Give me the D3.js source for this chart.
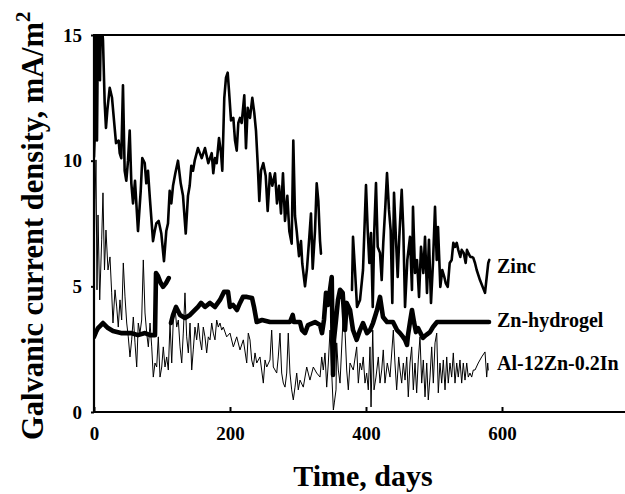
<!DOCTYPE html>
<html><head><meta charset="utf-8">
<script src="https://cdn.jsdelivr.net/npm/d3@7"></script>
<style>html,body{margin:0;padding:0;background:#fff;overflow:hidden}</style>
</head><body>
<script>
// ---- data (days, mA/m^2) ----
const xTicks = [0, 200, 400, 600];
const yTicks = [0, 5, 10, 15];
const seriesNames = ["Zinc", "Zn-hydrogel", "Al-12Zn-0.2In"];

const zincA = [[0,10.15],[1.5,11.3],[2.9,15.8],[4.4,10.8],[5.9,15.8],[8.8,13.2],[10.3,15.8],[13.2,14.8],[15.7,12.3],[17.6,11.3],[19.6,12.0],[23.1,12.9],[26.5,12.5],[29.4,11.6],[32.4,10.7],[36.3,10.8],[37.8,10.3],[40.1,10.1],[42.6,13.0],[45.1,9.6],[47.5,9.2],[50.0,10.0],[52.5,11.2],[54.9,9.1],[57.4,8.3],[60.3,9.2],[64.7,7.2],[68.7,8.8],[71.0,10.1],[74.6,9.9],[76.9,9.1],[79.4,9.6],[81.9,8.6],[86.8,6.8],[89.3,7.2],[91.6,7.5],[95.1,7.6],[99.0,7.1],[102.9,6.0],[106.3,7.2],[108.8,7.5],[111.3,8.8],[113.7,8.3],[116.2,9.0],[119.6,9.5],[123.5,10.0],[127.5,9.1],[130.9,8.6],[134.9,7.1],[138.2,8.6],[140.7,9.0],[143.1,9.8],[145.6,9.6],[148.1,10.0],[152.9,10.5],[158.4,10.1],[163.2,10.5],[168.1,9.9],[173.1,10.3],[175.4,9.5],[177.9,10.1],[180.4,9.9],[183.8,10.9],[186.8,10.3],[188.7,9.6],[191.6,12.5],[194.1,13.3],[196.6,13.5],[198.5,12.8],[201.5,11.6],[204.9,11.7],[207.4,10.8],[209.9,10.4],[212.2,11.5],[214.7,11.7],[217.2,11.5],[221.0,12.6],[223.5,10.5],[226.0,12.1],[229.4,11.7],[232.8,12.5],[235.7,11.9],[238.2,11.2],[240.7,9.9],[243.1,8.4],[245.6,9.6],[249.0,9.9],[252.5,9.4],[255.4,8.0],[258.8,9.5],[262.2,9.0],[266.2,9.5],[269.1,8.3],[272.1,9.0],[275.0,7.9],[277.9,9.5],[280.9,7.6],[284.3,8.6],[287.2,7.2],[290.7,6.7],[293.1,10.8],[295.6,7.8],[298.1,7.2],[301.5,6.2],[304.4,6.8],[306.3,5.9],[310.3,5.0],[313.2,5.7],[316.2,6.8],[319.1,7.9],[321.6,5.7],[325.0,7.2],[327.5,9.1],[329.9,8.4],[332.4,6.8],[333.8,6.3]];

const zincB = [[379.4,4.86],[380.9,6.97],[383.8,5.65],[386.8,4.18],[391.2,4.46],[395.6,5.65],[400.0,9.03],[402.5,7.24],[404.9,5.93],[407.4,7.12],[409.9,4.18],[412.2,7.24],[414.7,9.11],[417.2,6.57],[420.6,6.33],[423.1,5.25],[425.4,6.73],[428.4,8.16],[430.9,9.51],[433.8,8.04],[436.3,7.24],[438.7,4.34],[441.2,8.72],[444.1,6.85],[446.6,5.37],[449.0,6.97],[452.5,8.84],[454.9,7.24],[457.4,4.18],[460.8,6.05],[464.7,6.97],[467.6,4.86],[469.1,8.16],[472.1,5.53],[475.0,6.05],[478.0,4.58],[480.9,6.57],[484.3,5.53],[486.8,6.97],[489.7,4.74],[492.6,6.85],[495.6,4.34],[498.5,5.93],[501.5,8.16],[504.0,6.05],[505.9,7.36],[509.3,4.98],[512.2,5.65],[515.2,5.37],[517.2,5.13],[520.2,4.98],[523.1,5.93],[526.0,6.05],[528.4,6.73],[530.9,6.57],[533.4,6.73],[535.7,6.45],[538.7,6.17],[540.7,6.45],[543.7,6.33],[546.6,5.93],[548.5,6.45],[550.4,6.33],[553.4,6.17],[555.4,6.17],[557.8,6.13],[560.3,5.93],[562.8,5.65],[567.6,5.25],[575.0,4.74],[577.5,5.37],[579.8,5.93],[581.3,6.05]];

const hydroA = [[0,2.99],[2.9,3.18],[5.9,3.34],[10.3,3.46],[13.2,3.54],[17.6,3.42],[20.6,3.34],[27.9,3.22],[39.7,3.14],[54.4,3.14],[64.7,3.06],[75.0,3.14],[82.4,3.06],[89.7,3.06],[91.2,5.53],[94.1,5.41],[98.1,5.13],[101.5,4.98],[105.9,5.13],[109.9,5.33]];

const hydroB = [[113.2,3.54],[116.2,3.86],[120.6,4.18],[126.5,3.86],[133.8,3.74],[141.2,3.86],[148.5,4.06],[152.9,4.18],[157.4,4.34],[163.2,4.18],[170.6,4.34],[177.9,4.18],[185.3,4.46],[191.2,4.78],[197.1,4.78],[200.0,4.18],[204.4,4.26],[210.3,4.06],[214.7,4.34],[219.1,4.58],[225.0,4.58],[232.4,4.54],[235.3,4.18],[239.3,3.58],[247.1,3.66],[258.8,3.58],[273.5,3.58],[288.2,3.58],[292.2,3.86],[294.1,3.58],[302.9,3.58],[305.9,3.26],[310.3,3.14],[314.7,3.46],[325.0,3.58],[332.4,3.46],[335.3,3.14],[338.2,3.66],[341.2,4.74],[344.1,4.26],[349.6,5.37],[351.5,1.47],[352.9,2.87],[355.9,3.66],[358.8,4.46],[361.8,4.86],[365.7,4.74],[369.1,3.26],[371.6,4.34],[376.5,4.06],[380.9,3.26],[386.3,2.87],[391.2,3.26],[395.6,3.54],[401.5,3.14],[405.9,3.26],[410.3,3.54],[416.2,4.06],[420.6,4.58],[425.0,3.78],[430.9,3.58],[439.7,3.58],[445.6,3.26],[450.0,3.14],[454.4,2.99],[457.4,2.87],[460.3,2.67],[461.8,3.06],[464.7,3.58],[467.6,4.06],[470.6,3.58],[473.5,3.18],[476.5,3.34],[479.4,3.18],[483.8,2.95],[488.2,3.06],[494.1,3.18],[498.5,3.38],[504.4,3.58],[516.2,3.58],[538.2,3.58],[560.3,3.58],[580.9,3.58]];

const alloy = [[0,5.65],[1.5,8.44],[2.9,10.03],[4.4,4.86],[5.9,7.84],[8.4,4.46],[11.3,6.85],[13.2,8.72],[15.4,5.65],[17.6,7.24],[20.6,5.65],[23.5,6.17],[26.0,4.74],[27.9,3.54],[30.9,4.86],[33.4,4.18],[35.7,3.38],[38.2,4.46],[40.7,3.66],[43.1,5.93],[45.6,4.58],[48.1,3.54],[50.4,2.99],[52.9,2.19],[55.4,2.87],[57.8,3.78],[60.3,2.75],[62.8,1.79],[65.1,3.54],[67.6,3.14],[70.1,3.66],[72.5,6.05],[75.0,3.94],[77.5,3.14],[79.9,2.59],[82.4,3.54],[84.9,2.59],[87.2,1.39],[89.7,1.95],[92.2,1.79],[94.6,2.99],[97.1,1.39],[99.6,1.79],[101.9,2.59],[104.4,1.79],[106.9,2.19],[109.3,1.67],[111.8,3.54],[114.3,1.95],[116.6,3.66],[119.1,4.18],[121.6,3.38],[124.0,3.66],[126.5,2.59],[129.0,1.95],[131.3,3.14],[133.8,4.74],[136.3,2.99],[138.7,2.35],[141.2,3.54],[143.7,1.67],[146.0,2.47],[148.5,3.38],[151.0,2.87],[153.4,3.54],[155.9,2.87],[158.4,2.47],[160.7,3.38],[163.2,2.99],[165.7,2.35],[168.1,2.99],[170.6,2.87],[173.1,3.54],[175.4,3.14],[177.9,2.87],[180.4,3.66],[182.8,3.38],[185.3,3.54],[187.8,3.26],[190.1,3.38],[195.1,2.99],[200.0,3.14],[204.9,2.59],[209.9,2.99],[214.7,2.47],[219.6,2.87],[224.6,1.95],[226.9,3.14],[229.4,2.87],[231.9,2.07],[234.3,1.79],[236.8,2.35],[239.3,1.95],[244.1,2.19],[249.0,1.15],[251.5,2.07],[254.0,1.79],[258.8,2.07],[261.3,3.26],[263.7,1.79],[268.7,1.55],[271.0,2.19],[273.5,3.14],[276.0,1.55],[278.4,1.15],[280.9,0.99],[283.4,1.55],[285.7,3.14],[288.2,1.55],[290.7,0.88],[293.1,0.48],[295.6,0.99],[298.1,1.55],[300.4,0.88],[302.9,1.27],[307.8,0.99],[312.8,1.79],[317.6,1.27],[322.5,1.79],[327.5,1.55],[332.4,1.39],[334.9,2.19],[337.2,1.67],[339.7,2.35],[342.2,0.99],[344.6,1.95],[347.1,3.26],[349.6,1.55],[352.0,0.08],[353.4,0.36],[355.9,0.88],[356.9,2.75],[359.3,1.67],[361.8,1.15],[366.6,3.94],[369.1,3.26],[371.6,1.67],[374.0,0.88],[376.5,1.95],[381.3,1.67],[386.3,2.59],[388.7,1.15],[391.2,1.95],[393.7,1.67],[396.0,2.19],[398.5,1.15],[401.0,1.55],[403.4,0.88],[405.9,2.59],[407.4,0.20],[409.9,3.26],[411.8,0.88],[414.7,1.39],[418.1,2.19],[420.6,1.15],[423.1,1.67],[425.4,2.47],[427.9,1.15],[431.3,1.95],[435.3,1.39],[440.2,3.26],[442.6,1.95],[445.1,0.88],[448.1,2.19],[450.0,1.67],[452.5,1.15],[454.9,1.95],[457.4,1.27],[459.9,2.19],[462.2,0.60],[464.7,1.95],[467.2,2.59],[469.6,0.88],[472.1,1.95],[474.5,0.76],[476.9,2.07],[479.4,2.99],[481.9,1.15],[484.3,2.07],[486.8,0.60],[489.3,1.95],[491.6,0.48],[494.1,1.39],[496.6,2.59],[499.0,1.15],[501.5,2.75],[504.0,3.14],[506.3,0.76],[508.8,1.95],[511.3,1.15],[513.7,2.07],[516.2,0.88],[518.7,2.19],[521.0,1.15],[523.5,1.95],[526.0,1.39],[528.4,2.35],[530.9,1.15],[533.4,1.95],[535.7,1.39],[538.2,2.07],[540.7,1.15],[543.1,1.95],[545.6,1.27],[548.1,1.95],[550.4,1.39],[552.9,1.55],[555.4,1.39],[557.8,1.67],[560.3,1.67],[565.1,1.95],[570.1,2.19],[575.0,2.39],[577.5,1.39],[579.0,1.95],[579.8,1.67]];

// ---- chart ----
const W = 625, H = 494;
const svg = d3.select("body").append("svg").attr("width", W).attr("height", H)
  .style("font-family", "'Liberation Serif','Times New Roman',serif");

const x = d3.scaleLinear().domain([0, 800]).range([94, 638]);
const y = d3.scaleLinear().domain([0, 15]).range([412, 35]);

svg.append("defs").append("clipPath").attr("id", "clip")
  .append("rect").attr("x", x(0)).attr("y", y(15)).attr("width", W - x(0)).attr("height", y(0) - y(15));

const line = d3.line().x(d => x(d[0])).y(d => y(d[1]));
const g = svg.append("g").attr("clip-path", "url(#clip)");

const drawSeries = (data, w) => g.append("path").datum(data).attr("d", line)
  .attr("fill", "none").attr("stroke", "#000").attr("stroke-width", w)
  .attr("stroke-linejoin", "round").attr("stroke-linecap", "round");

drawSeries(alloy, 1);
drawSeries(hydroA, 4.6);
drawSeries(hydroB, 4.6);
drawSeries(zincA, 2.6);
drawSeries(zincB, 2.6);

// axes
const xAxis = d3.axisBottom(x).tickValues(xTicks).tickSize(-5).tickPadding(15).tickFormat(d3.format("d"));
const xg = svg.append("g").attr("transform", `translate(0,${y(0)})`).call(xAxis);
xg.select(".domain").attr("d", `M${x(0)},0H${W}`).attr("stroke-width", 2.2);
xg.selectAll(".tick line").attr("stroke-width", 2);
xg.selectAll(".tick text").attr("font-size", 19).attr("font-weight", "bold")
  .attr("font-family", "'Liberation Serif',serif").attr("fill", "#000");

const yAxis = d3.axisLeft(y).tickValues(yTicks).tickSize(3).tickPadding(9).tickFormat(d3.format("d"));
const yg = svg.append("g").attr("transform", `translate(${x(0)},0)`).call(yAxis);
yg.select(".domain").attr("d", `M0,${y(0)}V${y(15)}`).attr("stroke-width", 2.2);
yg.selectAll(".tick line").attr("stroke-width", 2);
yg.selectAll(".tick text").attr("font-size", 19).attr("font-weight", "bold")
  .attr("font-family", "'Liberation Serif',serif").attr("fill", "#000");

// top frame line
svg.append("line").attr("x1", x(0) - 1).attr("x2", W).attr("y1", y(15)).attr("y2", y(15))
  .attr("stroke", "#000").attr("stroke-width", 2.2);

// series labels
seriesNames.forEach((n, i) => {
  svg.append("text").attr("x", 497).attr("y", [273, 327, 370][i])
    .attr("font-size", 20).attr("font-weight", "bold").text(n);
});

// axis titles
svg.append("text").attr("x", 363).attr("y", 486).attr("text-anchor", "middle")
  .attr("font-size", 30).attr("font-weight", "bold").text("Time, days");

const yl = svg.append("text").attr("transform", "translate(43,440) rotate(-90)")
  .attr("font-size", 30.5).attr("font-weight", "bold");
yl.append("tspan").text("Galvanic current density, mA/m");
yl.append("tspan").attr("font-size", 21).attr("dy", -13).text("2");
</script>
</body></html>
